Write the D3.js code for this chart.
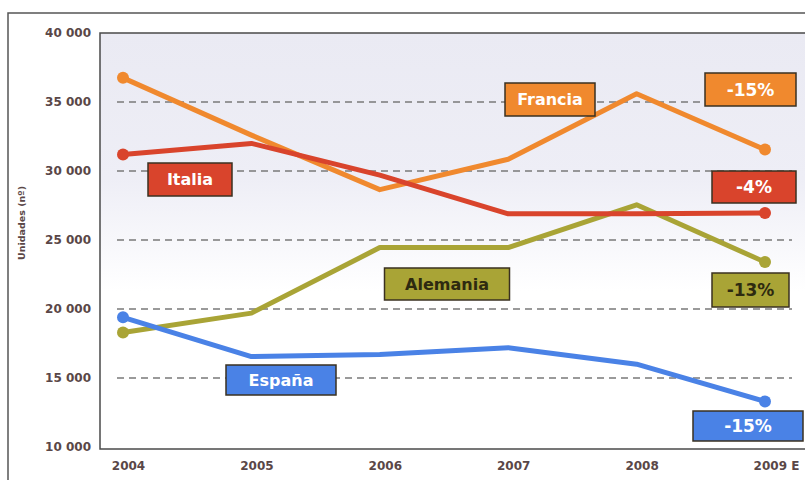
<!DOCTYPE html>
<html><head><meta charset="utf-8">
<script src="https://cdn.jsdelivr.net/npm/d3@7"></script>
<style>
html,body{margin:0;padding:0;background:#fff;}
svg{display:block;font-family:"DejaVu Sans",Verdana,sans-serif;}
</style></head>
<body><svg id="c" width="805" height="480"></svg>
<script>
// ---- data ----
const years = ["2004","2005","2006","2007","2008","2009 E"];
const yTicks = [10000,15000,20000,25000,30000,35000,40000];
const gridValues = [15000,20000,25000,30000,35000];
const seriesNames = ["Francia","Italia","Alemania","España"];
const francia  = [36750,32600,28650,30850,35600,31550];
const italia   = [31200,32000,29700,26900,26900,26950];
const alemania = [18300,19700,24450,24450,27550,23400];
const espana   = [19400,16550,16700,17200,16000,13300];
const changes  = ["-15%","-4%","-13%","-15%"];
const yTitle = "Unidades (nº)";

// ---- styles / layout ----
const colors = {Francia:"#f0892e", Italia:"#d9442c", Alemania:"#a9a436", "España":"#4a82e6"};
const textColors = {Francia:"#fff", Italia:"#fff", Alemania:"#2e2a10", "España":"#fff"};
const values = {Francia:francia, Italia:italia, Alemania:alemania, "España":espana};
// label boxes [cx, cy, w, h] in pixels
const nameBoxes = {Francia:[550,99.5,90,33], Italia:[190,179.5,84,33], Alemania:[447,284,125,32], "España":[281,380,110,30]};
const pctBoxes  = {Francia:[750.5,89.5,91,33], Italia:[754,187,84,32], Alemania:[750.5,290,77,34], "España":[748,426,110,30]};

const svg = d3.select("#c");
const plot = {l:100, t:33, r:812, b:449};

const x = d3.scalePoint().domain(years).range([123,765]);
const y = d3.scaleLinear().domain([10000,40000]).range([447,33]);

// outer frame
svg.append("rect").attr("x",8).attr("y",13).attr("width",820).attr("height",500)
  .attr("fill","#fff").attr("stroke","#555").attr("stroke-width",1.5);

// plot background gradient
const defs = svg.append("defs");
const g = defs.append("linearGradient").attr("id","bg").attr("x1",0).attr("y1",0).attr("x2",0).attr("y2",1);
g.append("stop").attr("offset","0%").attr("stop-color","#eaeaf3");
g.append("stop").attr("offset","35%").attr("stop-color","#eeeef6");
g.append("stop").attr("offset","62%").attr("stop-color","#ffffff");
g.append("stop").attr("offset","100%").attr("stop-color","#ffffff");
svg.append("rect").attr("x",plot.l).attr("y",plot.t).attr("width",plot.r-plot.l).attr("height",plot.b-plot.t)
  .attr("fill","url(#bg)").attr("stroke","#4a4a4a").attr("stroke-width",1.5);

// gridlines
svg.append("g").selectAll("line").data(gridValues).join("line")
  .attr("x1",117).attr("x2",792)
  .attr("y1",d=>y(d)).attr("y2",d=>y(d))
  .attr("stroke","#7a7a7a").attr("stroke-width",1.6).attr("stroke-dasharray","7,5");

// y axis labels
const fmt = v => d3.format(",")(v).replace(/,/g," ");
const yAxis = svg.append("g").attr("transform",`translate(${plot.l-4},0)`)
  .call(d3.axisLeft(y).tickValues(yTicks).tickSize(0).tickPadding(5).tickFormat(fmt));
yAxis.select(".domain").remove();
yAxis.selectAll("text").attr("font-size",12).attr("font-weight","bold").attr("fill","#5a4747")
  .attr("font-family","'DejaVu Sans',Verdana,sans-serif");

// x axis labels
const xAxis = svg.append("g").attr("transform",`translate(5,${plot.b+6})`)
  .call(d3.axisBottom(x).tickSize(0).tickPadding(6));
xAxis.select(".domain").remove();
xAxis.selectAll("text").attr("font-size",12).attr("font-weight","bold").attr("fill","#5a4747")
  .attr("font-family","'DejaVu Sans',Verdana,sans-serif");
xAxis.selectAll(".tick").filter(d=>d==="2009 E").select("text").attr("dx",6);

// y title
svg.append("text").attr("transform","translate(25,223) rotate(-90)")
  .attr("text-anchor","middle").attr("font-size",9.5).attr("font-weight","bold").attr("fill","#5a4747")
  .text(yTitle);

// lines
const line = d3.line().x((d,i)=>x(years[i])).y(d=>y(d));
const drawOrder = ["Alemania","España","Francia","Italia"];
drawOrder.forEach(name=>{
  const vals = values[name];
  svg.append("path").datum(vals).attr("d",line).attr("fill","none")
    .attr("stroke",colors[name]).attr("stroke-width",5).attr("stroke-linejoin","round");
  svg.append("g").selectAll("circle").data([0,vals.length-1]).join("circle")
    .attr("cx",i=>x(years[i])).attr("cy",i=>y(vals[i])).attr("r",6).attr("fill",colors[name]);
});

// label boxes
function box(b, fill, txt, tcol, fs){
  const [cx,cy,w,h] = b;
  svg.append("rect").attr("x",cx-w/2).attr("y",cy-h/2).attr("width",w).attr("height",h)
    .attr("fill",fill).attr("stroke","#3a3020").attr("stroke-width",1.5);
  svg.append("text").attr("x",cx).attr("y",cy).attr("dy","0.36em").attr("text-anchor","middle")
    .attr("font-size",fs).attr("font-weight","bold").attr("fill",tcol).text(txt);
}
seriesNames.forEach((name,i)=>{
  box(nameBoxes[name], colors[name], name, textColors[name], 16);
  box(pctBoxes[name], colors[name], changes[i], textColors[name], 17);
});
</script></body></html>
